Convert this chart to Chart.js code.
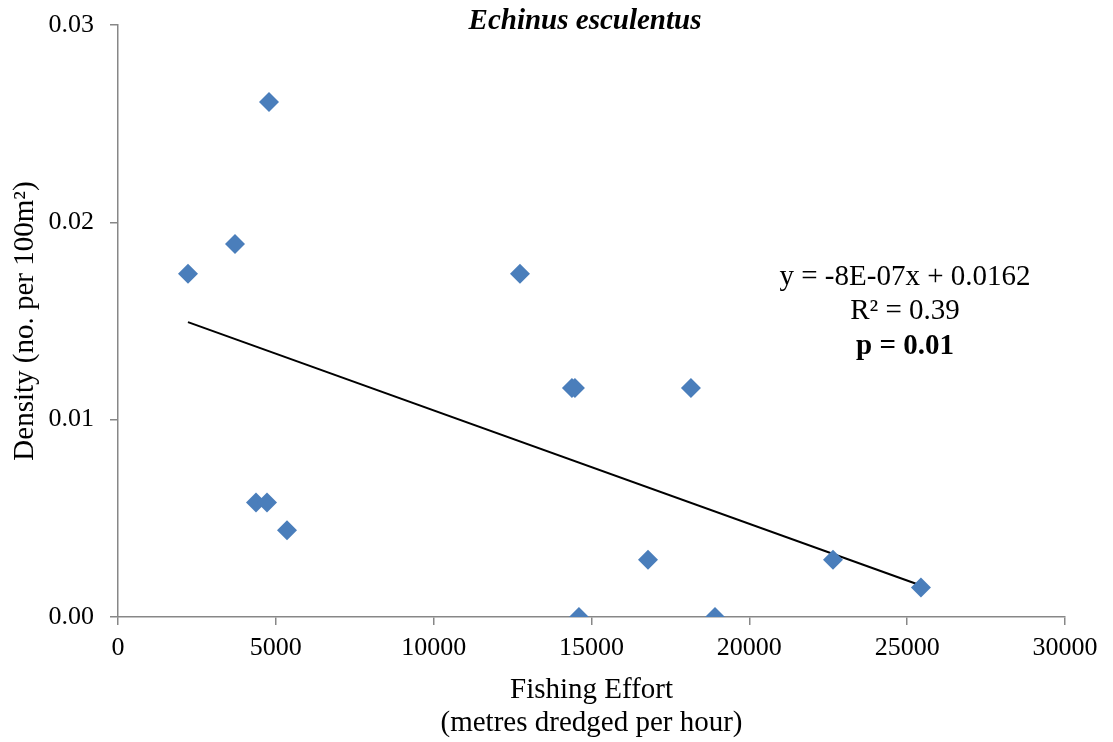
<!DOCTYPE html>
<html>
<head>
<meta charset="utf-8">
<script src="https://cdn.jsdelivr.net/npm/chart.js@4/dist/chart.umd.min.js"></script>
<style>
  html, body { margin: 0; padding: 0; background: #fff; }
  #wrap { width: 1113px; height: 742px; }
</style>
</head>
<body>
<div id="wrap"><canvas id="c" width="1113" height="742"></canvas></div>
<script>
// Fishing effort (metres dredged per hour) at each site
const effort = [2217, 3706, 4783, 4371, 4720, 5353, 12734, 14381, 14476, 14603, 18151, 16789, 18912, 22650, 25437];
// Echinus esculentus density (no. per 100 m²)
const density = [0.0174, 0.0189, 0.0261, 0.0058, 0.0058, 0.0044, 0.0174, 0.0116, 0.0116, 0.0000, 0.0116, 0.0029, 0.0000, 0.0029, 0.0015];

const xTicks = [0, 5000, 10000, 15000, 20000, 25000, 30000];
const yTicks = [0, 0.01, 0.02, 0.03];

const chartTitle = 'Echinus esculentus';
const fitLabels = ['y = -8E-07x + 0.0162', 'R² = 0.39', 'p = 0.01'];

// least-squares trend line over the observed effort range
function linearFit(xs, ys) {
  const n = xs.length;
  const mx = xs.reduce((a, b) => a + b, 0) / n;
  const my = ys.reduce((a, b) => a + b, 0) / n;
  let sxy = 0, sxx = 0;
  for (let i = 0; i < n; i++) {
    sxy += (xs[i] - mx) * (ys[i] - my);
    sxx += (xs[i] - mx) * (xs[i] - mx);
  }
  const slope = sxy / sxx;
  return { slope, intercept: my - slope * mx };
}
const fit = linearFit(effort, density);
const xMin = Math.min(...effort), xMax = Math.max(...effort);
const trend = [xMin, xMax].map(x => ({ x, y: fit.intercept + fit.slope * x }));

const points = effort.map((x, i) => ({ x, y: density[i] }));

const serif = '"Liberation Serif", "Times New Roman", serif';
const axisGrey = '#878787';

const overlayText = {
  id: 'overlayText',
  afterDraw(chart) {
    const ctx = chart.ctx;
    ctx.save();
    ctx.fillStyle = '#000';
    ctx.textAlign = 'center';
    ctx.textBaseline = 'middle';
    ctx.font = 'italic bold 29px ' + serif;
    ctx.fillText(chartTitle, 585, 22);
    const cx = 905;
    ctx.font = '29px ' + serif;
    ctx.fillText(fitLabels[0], cx, 277);
    ctx.fillText(fitLabels[1], cx, 311);
    ctx.font = 'bold 29px ' + serif;
    ctx.fillText(fitLabels[2], cx, 347);
    ctx.restore();
  }
};

new Chart(document.getElementById('c'), {
  type: 'scatter',
  data: {
    datasets: [
      {
        type: 'line',
        data: trend,
        borderColor: '#000',
        borderWidth: 2,
        pointRadius: 0,
        fill: false,
        order: 2
      },
      {
        data: points,
        pointStyle: 'rectRot',
        pointRadius: 10,
        pointHoverRadius: 10,
        backgroundColor: '#4a7ebb',
        borderColor: '#4a7ebb',
        borderWidth: 0,
        order: 1
      }
    ]
  },
  options: {
    responsive: false,
    animation: false,
    events: [],
    layout: { padding: { top: 25, right: 48, left: 0, bottom: 0 } },
    plugins: {
      legend: { display: false },
      tooltip: { enabled: false },
      title: { display: false }
    },
    scales: {
      x: {
        type: 'linear',
        min: 0,
        max: 30000,
        afterBuildTicks: s => { s.ticks = xTicks.map(v => ({ value: v })); },
        afterFit: s => { s.height = 125; s.paddingLeft = 0; s.paddingRight = 0; },
        grid: { drawOnChartArea: false, drawTicks: true, tickLength: 8, color: axisGrey, lineWidth: 1.5 },
        border: { color: axisGrey, width: 1.5 },
        ticks: {
          color: '#000',
          font: { family: serif, size: 26 },
          padding: 8,
          maxRotation: 0,
          callback: v => String(v)
        },
        title: {
          display: true,
          text: ['Fishing Effort', '(metres dredged per hour)'],
          color: '#000',
          font: { family: serif, size: 29, lineHeight: 1.15 },
          padding: { top: 10, bottom: 2 }
        }
      },
      y: {
        type: 'linear',
        min: 0,
        max: 0.03,
        afterBuildTicks: s => { s.ticks = yTicks.map(v => ({ value: v })); },
        afterFit: s => { s.width = 118; s.paddingTop = 0; s.paddingBottom = 0; },
        grid: { drawOnChartArea: false, drawTicks: true, tickLength: 8, color: axisGrey, lineWidth: 1.5 },
        border: { color: axisGrey, width: 1.5 },
        ticks: {
          color: '#000',
          font: { family: serif, size: 26 },
          padding: 16,
          callback: v => v.toFixed(2)
        },
        title: {
          display: true,
          text: 'Density (no. per 100m²)',
          color: '#000',
          font: { family: serif, size: 29, lineHeight: 1.2 },
          padding: { top: 8, bottom: 0 }
        }
      }
    }
  },
  plugins: [overlayText]
});
</script>
</body>
</html>
